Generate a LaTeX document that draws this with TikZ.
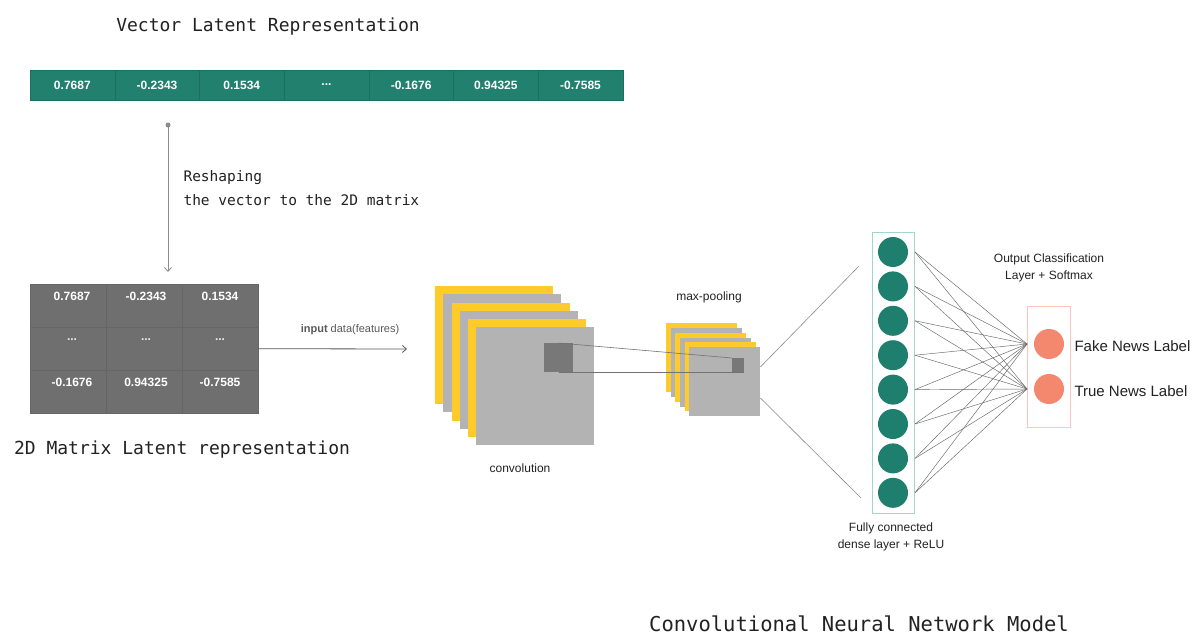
\documentclass[tikz,border=0pt]{standalone}
\usepackage{fontspec}
\setmainfont{Liberation Sans}
\newfontfamily\mono{DejaVu Sans Mono}
\usetikzlibrary{arrows.meta,calc}

\definecolor{tealbar}{HTML}{22806F}
\definecolor{tealline}{HTML}{1B6F60}
\definecolor{matgray}{HTML}{6F6F6F}
\definecolor{matline}{HTML}{666666}
\definecolor{featyellow}{HTML}{FFCB2B}
\definecolor{featgray}{HTML}{B3B3B3}
\definecolor{patchgray}{HTML}{787878}
\definecolor{neuron}{HTML}{1F7F6E}
\definecolor{densebox}{HTML}{A3D6CA}
\definecolor{outneuron}{HTML}{F4886F}
\definecolor{outbox}{HTML}{F9C6B9}
\definecolor{inkdark}{HTML}{222222}
\definecolor{arrowgray}{HTML}{8C8C8C}

% ellipsis entry (keeps \foreach from reading it as a range)
\newcommand\ellipentry{...}

\tikzset{
  vcell/.style={rectangle, fill=tealbar, draw=tealline, line width=0.3pt,
    minimum width=84.7pt, minimum height=30pt, inner sep=0pt,
    text=white, font=\fontsize{12}{14}\selectfont\bfseries},
  mcell/.style={rectangle, fill=matgray, draw=matline, line width=0.3pt,
    minimum width=76pt, minimum height=43pt, inner sep=0pt, anchor=north west},
  mtext/.style={text=white, font=\fontsize{12}{14}\selectfont\bfseries},
  fmap/.style={rectangle, minimum width=118pt, minimum height=118pt,
    inner sep=0pt, anchor=north west},
  pmap/.style={rectangle, minimum width=71pt, minimum height=69pt,
    inner sep=0pt, anchor=north west},
  neur/.style={circle, fill=neuron, minimum size=30pt, inner sep=0pt},
  oneur/.style={circle, fill=outneuron, minimum size=30pt, inner sep=0pt},
  monotitle/.style={text=inkdark, font=\mono\fontsize{18}{22}\selectfont},
  monosmall/.style={text=inkdark, font=\mono\fontsize{14.5}{22}\selectfont, anchor=west},
  caption/.style={text=inkdark, font=\fontsize{12}{14}\selectfont, align=center},
  flow/.style={draw=arrowgray, line width=0.8pt, -{Straight Barb[length=4pt,width=7pt]}},
  link/.style={draw=black!60, line width=0.45pt},
  guide/.style={draw=black!55, line width=0.6pt},
}

\begin{document}
\begin{tikzpicture}[x=1pt,y=-1pt]
  \fill[white] (0,0) rectangle (1193,634);
  \useasboundingbox (0,0) rectangle (1193,634);

  % vector latent representation
  \node[monotitle] (vtitle) at (268,27) {Vector Latent Representation};
  \foreach \v [count=\i] in {0.7687,-0.2343,0.1534,\ellipentry,-0.1676,0.94325,-0.7585}
    \node[vcell] (v\i) at ({30+84.7*(\i-0.5)},85) {\v};

  % reshaping arrow
  \coordinate (rsTop) at (168,125);
  \coordinate (rsBot) at (168,272);
  \fill[arrowgray] (rsTop) circle (2.5pt);
  \draw[flow] (rsTop) -- (rsBot);
  \node[monosmall] (rs1) at (180,178) {Reshaping};
  \node[monosmall] (rs2) at (180,200) {the vector to the 2D matrix};

  % 2D matrix
  \foreach \r in {0,1,2}
    \foreach \c in {0,1,2}
      \node[mcell] (m\r\c) at ({30+76*\c},{284+43*\r}) {};
  \node[rectangle, minimum width=228pt, minimum height=129pt, inner sep=0pt,
        anchor=north west] (matrix) at (30,284) {};
  \foreach \t [count=\i from 0] in {0.7687,-0.2343,0.1534}
    \node[mtext] (mt0\i) at ({72+74*\i},296) {\t};
  \foreach \i in {0,1,2}
    \node[mtext, text=white!85!gray] (mt1\i) at ({72+74*\i},340) {\ellipentry};
  \foreach \t [count=\i from 0] in {-0.1676,0.94325,-0.7585}
    \node[mtext] (mt2\i) at ({72+74*\i},382) {\t};
  \node[monotitle] (mtitle) at (182,450) {2D Matrix Latent representation};

  % input arrow
  \coordinate (inEnd) at (407,349);
  \draw[flow, draw=black!65] (matrix.east) -- (inEnd);
  \node[text=black!65, font=\fontsize{11}{13}\selectfont] (inlabel) at (350,330)
    {\textbf{input} data(features)};

  % convolution feature maps
  \foreach \i/\col in {0/featyellow,1/featgray,2/featyellow,3/featgray,4/featyellow}
    \node[fmap, fill=\col] (f\i) at ({435+8.2*\i},{286+8.2*\i}) {};
  \node[fmap, fill=featgray] (conv) at (476,327) {};
  \node[rectangle, fill=patchgray, minimum size=29pt, inner sep=0pt,
        anchor=north west] (patch) at (544,343) {};
  \node[caption] (convlabel) at (520,468) {convolution};

  % max-pooling feature maps
  \foreach \i/\col in {0/featyellow,1/featgray,2/featyellow,3/featgray,4/featyellow}
    \node[pmap, fill=\col] (p\i) at ({666+4.6*\i},{323+4.8*\i}) {};
  \node[pmap, fill=featgray] (pool) at (689,347) {};
  \node[rectangle, fill=patchgray, minimum width=12pt, minimum height=14pt,
        inner sep=0pt, anchor=north west] (ppatch) at (732,358) {};
  \node[caption] (poollabel) at (709,297) {max-pooling};

  \draw[guide] (patch.north) -- (ppatch.north west);
  \draw[guide] (patch.south) -- (ppatch.south east);

  % pooling to dense layer
  \coordinate (pUp) at ($(pool.north east)+(0,20)$);
  \coordinate (pDn) at ($(pool.north east)+(0,51)$);
  \coordinate (dUp) at (859,266);
  \coordinate (dDn) at (861,498);
  \draw[guide, draw=black!45] (pUp) -- (dUp);
  \draw[guide, draw=black!45] (pDn) -- (dDn);

  % dense layer
  \node[rectangle, draw=densebox, line width=1pt, minimum width=42pt,
        minimum height=281pt, inner sep=0pt, anchor=north west] (dense) at (872,232) {};
  \foreach \i in {1,...,8}
    \node[neur] (n\i) at (893,{252+34.4*(\i-1)}) {};
  \node[caption] (denselabel) at (891,537) {Fully connected\\[3pt]dense layer + ReLU};

  % output layer
  \node[rectangle, draw=outbox, line width=1pt, minimum width=43pt,
        minimum height=121pt, inner sep=0pt, anchor=north west] (out) at (1027,306) {};
  \node[oneur] (o1) at (1049,344) {};
  \node[oneur] (o2) at (1049,389) {};
  \coordinate (in1) at (1027,344);
  \coordinate (in2) at (1027,389);
  \foreach \i in {1,...,8} {
    \draw[link] (dense.east |- n\i) -- (in1);
    \draw[link] (dense.east |- n\i) -- (in2);
  }
  \node[caption] (outlabel) at (1049,268) {Output Classification\\[3pt]Layer + Softmax};
  \node[anchor=west, text=inkdark, font=\fontsize{15}{18}\selectfont] (fake) at (1071,346) {Fake News Label};
  \node[anchor=west, text=inkdark, font=\fontsize{15}{18}\selectfont] (true) at (1071,391) {True News Label};

  % model title
  \node[anchor=base, inner sep=0pt, text=inkdark, font=\mono\fontsize{20.5}{24}\selectfont] (cnntitle) at (859,631) {Convolutional Neural Network Model};
\end{tikzpicture}
\end{document}
